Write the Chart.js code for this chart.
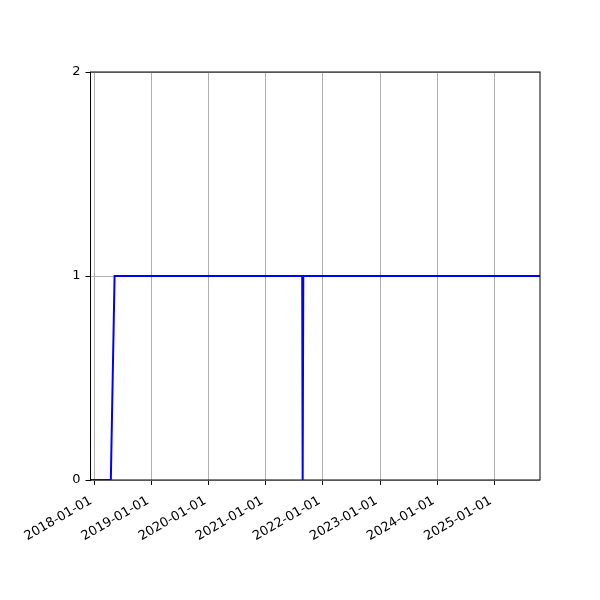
<!DOCTYPE html>
<html>
<head>
<meta charset="utf-8">
<script src="https://cdn.jsdelivr.net/npm/chart.js@4"></script>
<style>
    body { margin: 0; background: #fff; }
    #wrap { width: 600px; height: 600px; }
</style>
</head>
<body>
<div id="wrap"><canvas id="chart"></canvas></div>
<script>
// data
const dates = ["2017-12-06", "2018-04-15", "2018-05-09", "2021-08-21", "2021-08-24", "2021-08-28", "2025-10-20"];
const values = [0, 0, 1, 1, 0, 1, 1];

const xTickDates = ["2018-01-01", "2019-01-01", "2020-01-01", "2021-01-01", "2022-01-01", "2023-01-01", "2024-01-01", "2025-01-01"];
const yTicks = [0, 1, 2];

const xStart = "2017-12-06";
const xEnd = "2025-10-20";

function toTime(s) {
    return Date.parse(s);
}

function fmtDate(v) {
    // trailing space nudges the rotated label off the tick like matplotlib does
    return new Date(v).toISOString().slice(0, 10) + " ";
}

const points = dates.map((d, i) => ({ x: toTime(d), y: values[i] }));

// black box round the plot area, like matplotlib spines
const frame = {
    id: "frame",
    beforeDatasetsDraw(chart) {
        const { ctx, chartArea } = chart;
        ctx.save();
        ctx.strokeStyle = "#000";
        ctx.lineWidth = 1;
        ctx.strokeRect(chartArea.left, chartArea.top, chartArea.right - chartArea.left, chartArea.bottom - chartArea.top);
        ctx.restore();
    }
};

const ctx = document.getElementById("chart").getContext("2d");

new Chart(ctx, {
    type: "line",
    data: {
        datasets: [{
            data: points,
            borderColor: "#0000ff",
            borderWidth: 2,
            pointRadius: 0,
            tension: 0,
            fill: false
        }]
    },
    options: {
        responsive: true,
        maintainAspectRatio: false,
        animation: false,
        layout: { padding: { left: 0, top: 72, right: 60, bottom: 0 } },
        plugins: {
            legend: { display: false },
            tooltip: { enabled: false }
        },
        scales: {
            x: {
                type: "linear",
                min: toTime(xStart),
                max: toTime(xEnd),
                afterBuildTicks: (scale) => {
                    scale.ticks = xTickDates.map(d => ({ value: toTime(d) }));
                },
                afterFit: (scale) => { scale.height = 120; },
                grid: { color: "#b0b0b0", lineWidth: 1, tickColor: "#000", tickLength: 5 },
                border: { display: false },
                ticks: {
                    color: "#000",
                    font: { family: "DejaVu Sans", size: 13 },
                    minRotation: 30,
                    maxRotation: 30,
                    padding: 6,
                    autoSkip: false,
                    callback: (v) => fmtDate(v)
                }
            },
            y: {
                min: 0,
                max: 2,
                afterBuildTicks: (scale) => {
                    scale.ticks = yTicks.map(v => ({ value: v }));
                },
                afterFit: (scale) => { scale.width = 90.5; },
                grid: { color: "#b0b0b0", lineWidth: 1, tickColor: "#000", tickLength: 5 },
                border: { display: false },
                ticks: {
                    color: "#000",
                    font: { family: "DejaVu Sans", size: 13 },
                    padding: 5
                }
            }
        }
    },
    plugins: [frame]
});
</script>
</body>
</html>
